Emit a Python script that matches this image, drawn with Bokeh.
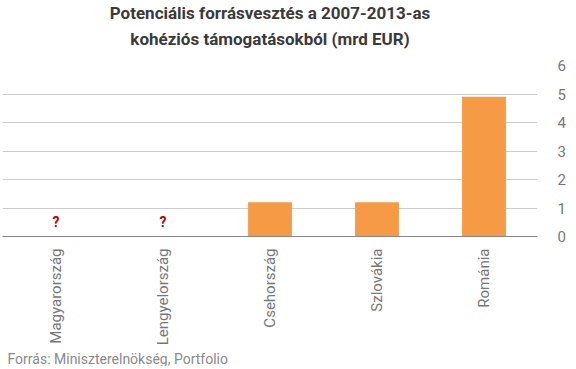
from bokeh.plotting import figure
from bokeh.models import Title, FixedTicker
from bokeh.embed import file_html
from bokeh.resources import INLINE
from bokeh.core.properties import value
import math

categories = ["Magyarország", "Lengyelország", "Csehország", "Szlovákia", "Románia"]
values = [None, None, 1.2, 1.2, 4.9]
y_ticks = [0, 1, 2, 3, 4, 5, 6]
title_line1 = "Potenciális forrásvesztés a 2007-2013-as"
title_line2 = "kohéziós támogatásokból (mrd EUR)"
source_text = "Forrás: Miniszterelnökség, Portfolio"

bar_x = [c for c, v in zip(categories, values) if v is not None]
bar_top = [v for v in values if v is not None]
missing_x = [c for c, v in zip(categories, values) if v is None]

p = figure(x_range=categories, y_range=(0, 6),
           frame_width=535, frame_height=171,
           output_backend="svg", toolbar_location=None,
           min_border_left=2, min_border_right=0, min_border_top=0, min_border_bottom=0,
           y_axis_location="right")

# title: line 1 outermost, line 2 below it, then a small spacer nearest the plot
p.title.text = title_line1
p.title.align = "center"
p.title.text_font = "Roboto"
p.title.text_font_size = "17px"
p.title.text_font_style = "bold"
p.title.text_color = "#3a3a3a"
p.title.standoff = 0

spacer = Title(text=" ", align="center", text_font="Roboto",
               text_font_size="6px", text_color="#ffffff", standoff=4)
p.add_layout(spacer, "above")

t2 = Title(text=title_line2, align="center", text_font="Roboto",
           text_font_size="17px", text_font_style="bold", text_color="#3a3a3a",
           standoff=8)
p.add_layout(t2, "above")

src = Title(text=source_text, align="left", offset=5, text_font="Roboto",
            text_font_size="14px", text_font_style="normal", text_color="#8a8a8a",
            standoff=0)
p.add_layout(src, "below")

p.vbar(x=bar_x, top=bar_top, width=0.41, color="#F79A45", line_color=None)
p.text(x=missing_x, y=[0.5] * len(missing_x), text=["?"] * len(missing_x),
       text_font=value("Roboto"), text_font_style="bold", text_font_size="14px",
       text_color="#C00000", text_align="center", text_baseline="middle")

p.outline_line_color = None
p.xgrid.grid_line_color = None
p.ygrid.grid_line_color = "#cccccc"
p.ygrid.ticker = FixedTicker(ticks=y_ticks)

ya = p.yaxis[0]
ya.ticker = FixedTicker(ticks=y_ticks)
ya.axis_line_color = None
ya.major_tick_line_color = None
ya.minor_tick_line_color = None
ya.major_label_text_font = "Roboto"
ya.major_label_text_font_size = "15px"
ya.major_label_text_color = "#777777"
ya.major_label_standoff = 14

xa = p.xaxis[0]
xa.axis_line_color = "#888888"
xa.major_tick_line_color = None
xa.minor_tick_line_color = None
xa.major_label_orientation = math.pi / 2
xa.major_label_text_font = "Roboto"
xa.major_label_text_font_size = "15px"
xa.major_label_text_color = "#777777"
xa.major_label_standoff = 6

p.x_range.range_padding = 0

open("out.html", "w").write(file_html(p, INLINE))
